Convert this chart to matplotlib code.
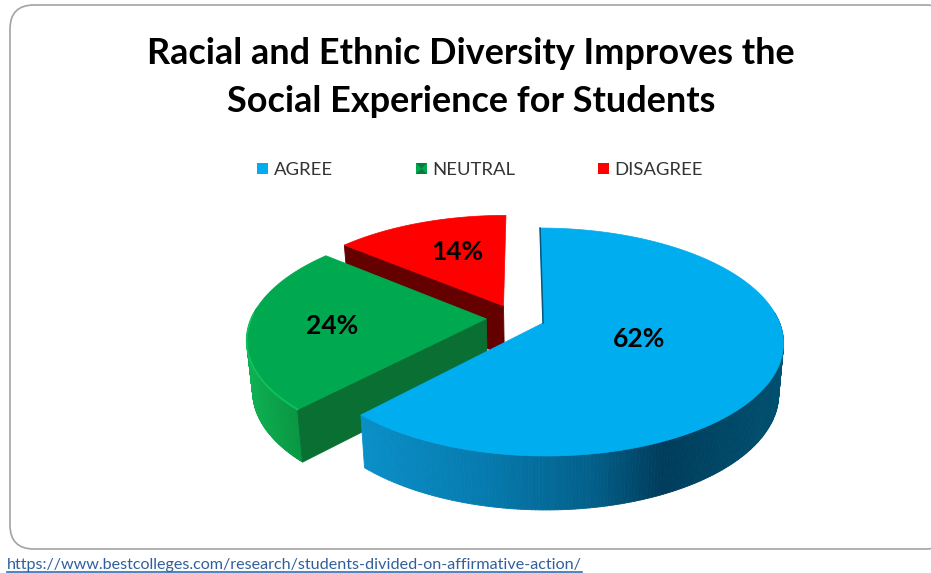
#!/usr/bin/env python3
# -*- coding: utf-8 -*-

import numpy as np
from matplotlib import pyplot as plt
from matplotlib.collections import PolyCollection
from matplotlib.colors import LinearSegmentedColormap
from matplotlib.patches import FancyBboxPatch, Polygon, Rectangle

title_lines = ['Racial and Ethnic Diversity Improves the',
               'Social Experience for Students']
categories = ['AGREE', 'NEUTRAL', 'DISAGREE']
values = [62, 24, 14]
source = 'https://www.bestcolleges.com/research/students-divided-on-affirmative-action/'

TOP_COLORS = ['#00adef', '#00a94f', '#fe0000']
WALL_COLORS = [None, '#0a6f32', '#640000']
SIDE_RAMPS = [
    [(0, '#0a8fc8'), (0.3, '#067aae'), (0.55, '#03608a'), (0.72, '#003c5c'), (1, '#00506f')],
    [(0, '#0fb052'), (0.5, '#0a9c46'), (1, '#08883c')],
    [(0, '#640000'), (1, '#640000')],
]
LABEL_RADIUS = [0.42, 0.65, 0.60]
LABEL_TURN = [-2, -2.5, 3]  # degrees away from the slice's mid angle
LEGEND_X = [257, 416, 598]

# pie projection: disc coords -> screen pixels, with a bit of perspective
X0, Y0 = 543, 323
A, B, K = 236.6, 110.8, 0.1667
LEAN = -3
EXPLODE = 0.125
CENTER = np.array([-0.116, 0.046])
DEPTH = 50
X_SHRINK, Y_STRETCH = 0.98, 1.03
TEXT = '#333333'

plt.rcParams['font.family'] = ['Lato', 'DejaVu Sans']


def project(u, v, bottom=False):
    w = 1 + K * v
    x, y = A * u / w + LEAN * v, B * v / w
    if bottom:
        return X0 + x * X_SHRINK, Y0 - y * Y_STRETCH + DEPTH
    return X0 + x, Y0 - y


fig = plt.figure(figsize=(9.31, 5.73), dpi=100)
ax = fig.add_axes([0, 0, 1, 1])
ax.set_xlim(0, 931)
ax.set_ylim(573, 0)
ax.axis('off')

ax.add_patch(FancyBboxPatch((10, 5), 940, 544, boxstyle='round,pad=0,rounding_size=24',
                            fc='white', ec='#a3a3a3', lw=1.2))

ax.text(471, 54, title_lines[0], ha='center', va='center', fontsize=25.9,
        fontweight='bold', color='black')
ax.text(471, 101, title_lines[1], ha='center', va='center', fontsize=25.9,
        fontweight='bold', color='black')

# legend
for i, name in enumerate(categories):
    lx = LEGEND_X[i]
    ax.add_patch(Rectangle((lx, 163), 11, 11, fc=TOP_COLORS[i], ec='none'))
    ax.text(lx + 16.5, 170, name, ha='left', va='center', fontsize=13.3, color=TEXT)
lx = LEGEND_X[1]
ax.add_patch(Polygon([(lx, 163), (lx + 11, 163), (lx + 5.5, 168.5)], fc='#0a7a38', ec='none'))
ax.add_patch(Polygon([(lx, 174), (lx + 11, 174), (lx + 5.5, 168.5)], fc='#0a7a38', ec='none'))

# slice angles, clockwise from twelve o'clock
edges = np.radians(np.concatenate([[0], np.cumsum(values)]) * 3.6)

# back slices first so that the front ones sit over them
for i in [2, 1, 0]:
    start, end = edges[i], edges[i + 1]
    mid = (start + end) / 2
    apex = CENTER + EXPLODE * np.array([np.sin(mid), np.cos(mid)])
    t = np.linspace(start, end, 300)
    u, v = apex[0] + np.sin(t), apex[1] + np.cos(t)

    tx, ty = project(u, v)
    bx, by = project(u, v, bottom=True)
    ax_, ay_ = project(*apex)
    bax, bay = project(*apex, bottom=True)

    # outer wall as thin strips, shaded left to right; the back of the rim stays hidden
    ramp = LinearSegmentedColormap.from_list('wall', SIDE_RAMPS[i])
    pos = (tx[:-1] - tx.min()) / (tx.max() - tx.min())
    shade = ramp(pos)
    facing = np.cos(t[:-1]) < 0.1
    strips = [[(tx[j], ty[j]), (tx[j + 1], ty[j + 1]), (bx[j + 1], by[j + 1]), (bx[j], by[j])]
              for j in np.flatnonzero(facing)]
    if strips:
        ax.add_collection(PolyCollection(strips, facecolors=shade[facing],
                                         edgecolors=shade[facing], linewidths=0.6))

    # green and red show the radial wall on their start edge
    if WALL_COLORS[i]:
        ax.add_patch(Polygon([(ax_, ay_), (tx[0], ty[0]), (bx[0], by[0]), (bax, bay)],
                             fc=WALL_COLORS[i], ec=WALL_COLORS[i], lw=0.6))

    ax.add_patch(Polygon(np.column_stack([np.r_[ax_, tx], np.r_[ay_, ty]]),
                         fc=TOP_COLORS[i], ec=TOP_COLORS[i], lw=0.5))

    if i == 0:
        ax.plot([ax_, tx[0]], [ay_, ty[0]], color='#06587f', lw=1.1)
    if i == 1:
        front = np.cos(t) < 0.05
        ax.plot(tx[front], ty[front], color='#14c864', lw=1.3, alpha=0.8)

    r = LABEL_RADIUS[i]
    turn = mid + np.radians(LABEL_TURN[i])
    lx, ly = project(apex[0] + r * np.sin(turn), apex[1] + r * np.cos(turn))
    ax.text(lx, ly, f'{values[i]}%', ha='center', va='center', fontsize=19,
            fontweight='bold', color='black')

link = ax.text(7, 564.5, source, ha='left', va='center', fontsize=11.63, color='#2f5f9e')
fig.canvas.draw()
box = link.get_window_extent().transformed(ax.transData.inverted())
ax.plot([box.x0, box.x1], [571.5, 571.5], color='#2f6fb5', lw=1.2)

fig.savefig('out.png', dpi=100)
